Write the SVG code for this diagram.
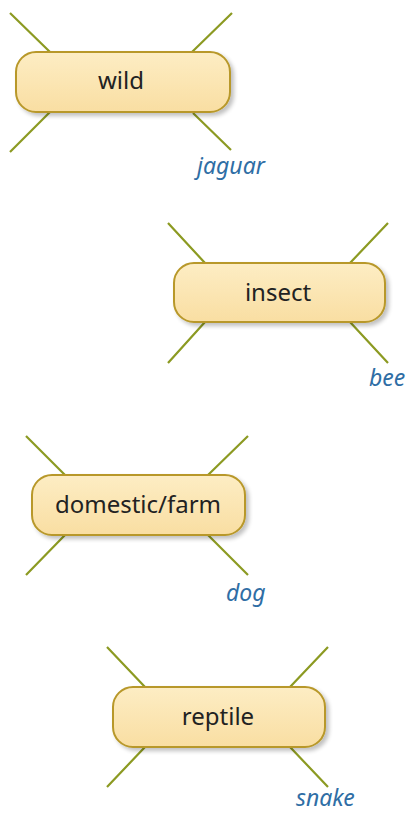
<svg xmlns="http://www.w3.org/2000/svg" width="411" height="813" viewBox="0 0 411 813">
<defs>
<linearGradient id="g" x1="0" y1="0" x2="0" y2="1">
<stop offset="0" stop-color="#fdedc4"/>
<stop offset="1" stop-color="#f9dea2"/>
</linearGradient>
<filter id="sh" x="-10%" y="-20%" width="125%" height="150%">
<feGaussianBlur in="SourceAlpha" stdDeviation="2"/>
<feOffset dx="3" dy="3"/>
<feComponentTransfer><feFuncA type="linear" slope="0.25"/></feComponentTransfer>
<feMerge><feMergeNode/><feMergeNode in="SourceGraphic"/></feMerge>
</filter>
</defs>
<style>
.box{fill:url(#g);stroke:#b8982a;stroke-width:2;filter:url(#sh)}
.lbl{font-family:"Noto Sans",sans-serif;font-size:24px;fill:#222;text-anchor:middle}
.ex{font-family:"Noto Sans",sans-serif;font-size:23px;font-style:italic;fill:#2f6ea5}
.ln{stroke:#8c9a22;stroke-width:2.2;fill:none}
</style>
<rect width="411" height="813" fill="#ffffff"/>
<g id="connectors">
<path class="ln" d="M10,13 L50,52 M232,13 L192,52 M50,112 L10,152 M193,113 L231,150"/>
<path class="ln" d="M168,223 L205,263 M388,223 L350,263 M205,322 L168,363 M350,322 L388,363"/>
<path class="ln" d="M26,436 L65,475 M248,436 L208,475 M65,535 L26,575 M208,535 L248,575"/>
<path class="ln" d="M107,647 L145,687 M328,647 L290,687 M145,747 L107,787 M290,747 L328,787"/>
</g>
<g id="node-wild">
<rect class="box" x="16" y="52" width="214" height="60" rx="20"/>
<text class="lbl" x="121" y="89">wild</text>
</g>
<text class="ex" x="197" y="174">jaguar</text>
<g id="node-insect">
<rect class="box" x="174" y="263" width="211" height="59" rx="20"/>
<text class="lbl" x="278" y="301">insect</text>
</g>
<text class="ex" x="369" y="386">bee</text>
<g id="node-domestic">
<rect class="box" x="32" y="475" width="213" height="60" rx="20"/>
<text class="lbl" x="138" y="513">domestic/farm</text>
</g>
<text class="ex" x="226" y="601">dog</text>
<g id="node-reptile">
<rect class="box" x="113" y="687" width="212" height="60" rx="20"/>
<text class="lbl" x="218" y="725">reptile</text>
</g>
<text class="ex" x="296" y="806">snake</text>
</svg>
